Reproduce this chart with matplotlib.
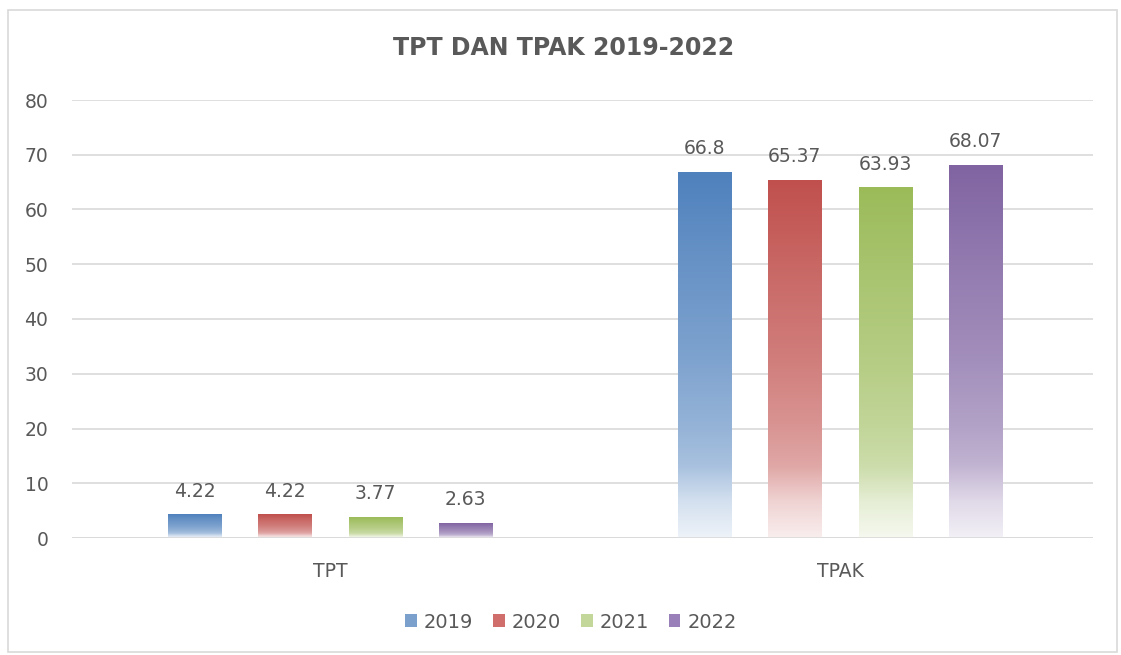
import numpy as np
import matplotlib.pyplot as plt
from matplotlib.colors import to_rgb
from matplotlib.patches import Rectangle, Patch

categories = ["TPT", "TPAK"]
years = ["2019", "2020", "2021", "2022"]
values = {
    "2019": [4.22, 66.8],
    "2020": [4.22, 65.37],
    "2021": [3.77, 63.93],
    "2022": [2.63, 68.07],
}
labels = {
    "2019": ["4.22", "66.8"],
    "2020": ["4.22", "65.37"],
    "2021": ["3.77", "63.93"],
    "2022": ["2.63", "68.07"],
}
colors = ["#4F81BD", "#C0504D", "#9BBB59", "#8064A2"]
yticks = [0, 10, 20, 30, 40, 50, 60, 70, 80]

TEXT = "#595959"
GRID = "#D9D9D9"


def gradient_image(color, n=200):
    # fraction from bottom -> how much of the base colour (rest is white)
    t = np.linspace(0, 1, n)
    m = np.interp(t, [0, 0.1, 0.2, 0.3, 0.5, 0.75, 1.0],
                  [0.1, 0.25, 0.5, 0.6, 0.74, 0.86, 1.0])
    base = np.array(to_rgb(color))
    rgb = 1 - m[:, None] * (1 - base[None, :])
    return rgb[::-1, None, :]  # top row = top of bar


fig = plt.figure(figsize=(11.21, 6.55), dpi=100)
ax = fig.add_axes([72 / 1121, 1 - 538 / 655, (1093 - 72) / 1121, (538 - 100) / 655])

# outer chart frame
fig.patches.append(Rectangle((8 / 1121, 1 - 652 / 655), (1117 - 8) / 1121, (652 - 10) / 655,
                             transform=fig.transFigure, fill=False, edgecolor=GRID, lw=1.2))

x = np.arange(len(categories))
width = 0.104
step = 0.177
for i, (year, color) in enumerate(zip(years, colors)):
    bars = ax.bar(x + (i - 1.5) * step, values[year], width, color="none", zorder=3)
    img = gradient_image(color)
    for bar, lab in zip(bars, labels[year]):
        x0, h = bar.get_x(), bar.get_height()
        ax.imshow(img, extent=(x0, x0 + bar.get_width(), 0, h), aspect="auto",
                  interpolation="bilinear", zorder=3)
        ax.annotate(lab, (x0 + bar.get_width() / 2, h), xytext=(0, 17),
                    textcoords="offset points", ha="center", va="center",
                    fontsize=13.5, color=TEXT)

ax.set_xlim(-0.506, 1.496)
ax.set_ylim(0, 80)
ax.set_yticks(yticks)
ax.set_xticks(x)
ax.set_xticklabels(categories)
ax.tick_params(axis="both", length=0, labelsize=13.5, labelcolor=TEXT)
ax.tick_params(axis="x", pad=17)
ax.tick_params(axis="y", pad=17)
for s in ax.spines.values():
    s.set_visible(False)
ax.grid(axis="y", color=GRID, lw=1.2, zorder=0)
ax.axhline(0, color=GRID, lw=1.2, zorder=4)
ax.set_axisbelow(True)

fig.text(564 / 1121, 1 - 48 / 655, "TPT DAN TPAK 2019-2022", ha="center", va="center",
         fontsize=17, fontweight="bold", color=TEXT)

legend_colors = ["#7BA0CC", "#D06E6C", "#C4D79B", "#9A80B8"]
handles = [Patch(facecolor=c, edgecolor="none") for c in legend_colors]
fig.legend(handles, years, loc="center", bbox_to_anchor=(571 / 1121, 1 - 622 / 655),
           ncol=4, frameon=False, fontsize=14, labelcolor=TEXT,
           handlelength=0.6, handleheight=0.6, handletextpad=0.36, columnspacing=1.02)

fig.savefig("out.png", dpi=100)
